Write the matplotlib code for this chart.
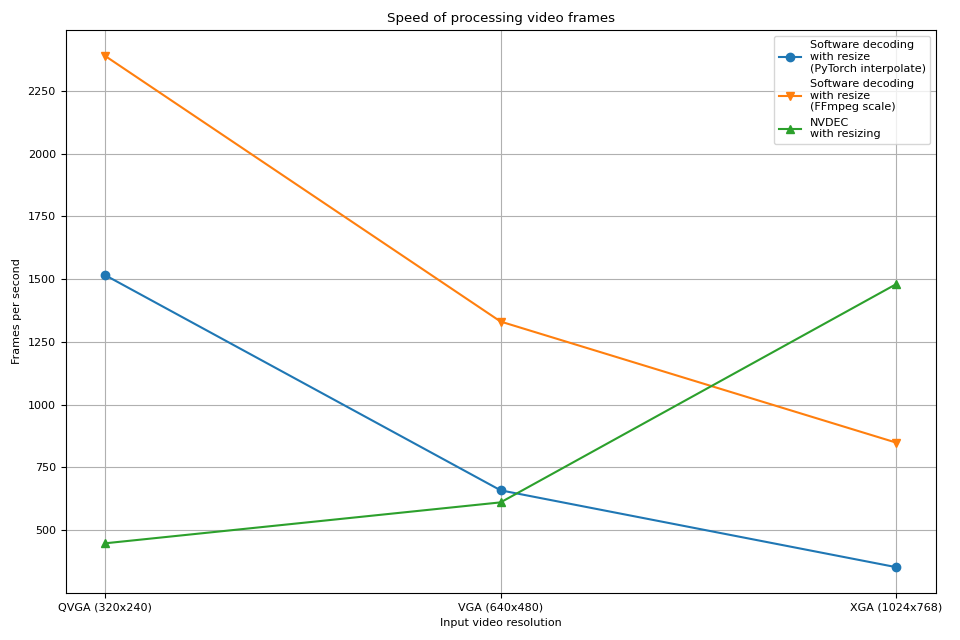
import matplotlib
matplotlib.use("Agg")
import matplotlib.pyplot as plt

resolutions = ["QVGA (320x240)", "VGA (640x480)", "XGA (1024x768)"]
sw_torch = [1516, 659, 353]
sw_ffmpeg = [2389, 1331, 849]
nvdec = [448, 611, 1480]

plt.rcParams["font.size"] = 8

fig, ax = plt.subplots(figsize=(9.6, 6.4), dpi=100)
ax.plot(resolutions, sw_torch, marker="o", label="Software decoding\nwith resize\n(PyTorch interpolate)")
ax.plot(resolutions, sw_ffmpeg, marker="v", label="Software decoding\nwith resize\n(FFmpeg scale)")
ax.plot(resolutions, nvdec, marker="^", label="NVDEC\nwith resizing")
ax.set_title("Speed of processing video frames")
ax.set_xlabel("Input video resolution")
ax.set_ylabel("Frames per second")
ax.grid(True)
ax.legend(loc="upper right")
fig.tight_layout()
fig.savefig("out.png")
